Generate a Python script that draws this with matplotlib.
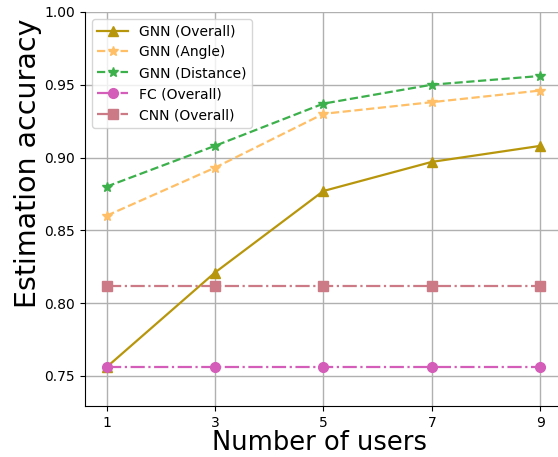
import matplotlib
matplotlib.use("Agg")
import matplotlib.pyplot as plt

# number of users on the x axis
users = [1, 3, 5, 7, 9]

gnn_overall = [0.756, 0.821, 0.877, 0.897, 0.908]
gnn_angle = [0.860, 0.893, 0.930, 0.938, 0.946]
gnn_distance = [0.880, 0.908, 0.937, 0.950, 0.956]
fc_overall = [0.756, 0.756, 0.756, 0.756, 0.756]
cnn_overall = [0.812, 0.812, 0.812, 0.812, 0.812]

fig = plt.figure(figsize=(5.58, 4.57), dpi=100)
ax = fig.add_axes([0.152, 0.112, 0.86, 0.862])

ax.plot(users, gnn_overall, '-^', color='#B8960C', lw=1.6, ms=7, label='GNN (Overall)')
ax.plot(users, gnn_angle, '--*', color='#FFBF66', lw=1.6, ms=7, label='GNN (Angle)')
ax.plot(users, gnn_distance, '--*', color='#3CB04B', lw=1.6, ms=7, label='GNN (Distance)')
ax.plot(users, fc_overall, '-.o', color='#D35DB8', lw=1.6, ms=7, label='FC (Overall)')
ax.plot(users, cnn_overall, '-.s', color='#CC7A85', lw=1.6, ms=7, label='CNN (Overall)')

ax.set_xlim(0.6, 9.45)
ax.set_ylim(0.7295, 1.0)
ax.set_xticks(users)
ax.set_yticks([0.75, 0.80, 0.85, 0.90, 0.95, 1.00])
ax.grid(True, color='#b0b0b0', lw=1.0)
ax.spines['top'].set_visible(False)
ax.spines['right'].set_visible(False)
ax.tick_params(labelsize=10)

ax.set_xlabel('Number of users', fontsize=18.5)
ax.set_ylabel('Estimation accuracy', fontsize=20.5)
ax.yaxis.set_label_coords(-0.09, 0.615)
ax.xaxis.set_label_coords(0.49, -0.062)
ax.legend(loc='upper left', fontsize=10, handlelength=2.2)

fig.savefig('out.png', dpi=100)
